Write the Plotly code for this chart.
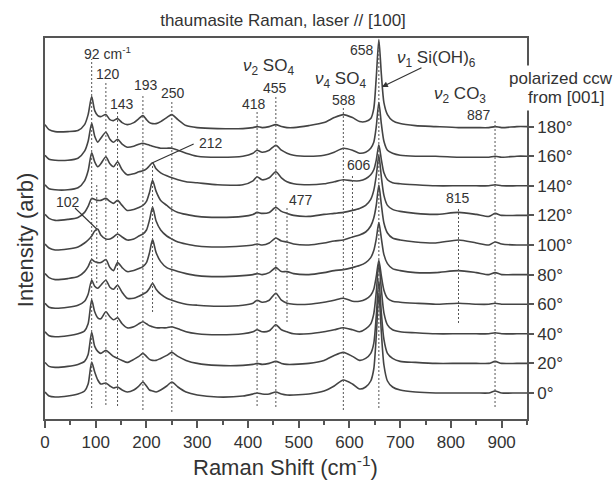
import plotly.graph_objects as go

# Raman shift sample positions (cm-1)
shift = [0, 8, 20, 45, 65, 78, 85, 92, 98, 104,
         110, 120, 128, 135, 143, 152, 162, 175, 185, 193,
         200, 206, 212, 219, 228, 240, 250, 262, 278, 300,
         340, 390, 410, 418, 428, 442, 455, 466, 477, 490,
         520, 550, 570, 588, 606, 620, 632, 642, 648, 653,
         658, 663, 668, 675, 685, 700, 730, 770, 815, 850,
         875, 887, 900, 930, 950]

angles = ["0°", "20°", "40°", "60°", "80°", "100°", "120°", "140°", "160°", "180°"]

# intensities above each spectrum's own baseline (arb)
i000 = [1, -3, -4, -3, -1, 2, 9, 31, 21, 13,
        9, 10, 7, 5, 6, 3, 1, 3, 7, 11,
        7, 3, 2, 1, 3, 7, 11, 6, 1, -2,
        -4, -3, -1, 0, -1, -1, 1, -1, -2, -2,
        -1, 2, 7, 13, 9, 4, 6, 12, 24, 58,
        100, 60, 28, 12, 6, 3, 1, 0, 0, 0,
        0, 2, 0, 0, 0]
i020 = [1, -3, -4, -3, -1, 2, 9, 31, 17, 12,
        10, 13, 10, 7, 5, 3, 1, 4, 7, 10,
        7, 4, 3, 3, 5, 8, 11, 7, 3, 0,
        -2, -2, -1, 0, -1, 0, 2, 0, -1, -1,
        0, 3, 8, 11, 7, 3, 5, 10, 20, 48,
        83, 50, 24, 10, 5, 2, 1, 0, 0, 0,
        0, 2, 0, 0, 0]
i040 = [2, -2, -3, -2, 0, 3, 10, 34, 22, 16,
        15, 22, 17, 14, 16, 10, 6, 7, 10, 12,
        10, 8, 7, 6, 6, 6, 7, 5, 2, 0,
        -1, 0, 2, 4, 2, 3, 9, 4, 2, 0,
        0, 2, 4, 6, 4, 2, 5, 10, 20, 42,
        71, 44, 21, 9, 4, 2, 1, 0, 0, 0,
        0, 1, 0, 0, 0]
i060 = [1, -3, -4, -3, -1, 3, 10, 24, 18, 16,
        19, 24, 17, 15, 19, 12, 6, 6, 8, 10,
        12, 16, 21, 15, 10, 6, 4, 2, 0, -1,
        -2, -1, 1, 4, 2, 4, 11, 4, 1, 0,
        0, 2, 4, 6, 3, 3, 5, 9, 15, 28,
        44, 28, 14, 6, 3, 2, 1, 0, 1, 0,
        0, 1, 0, 0, 0]
i080 = [1, -3, -5, -4, -2, 3, 8, 15, 13, 12,
        12, 15, 7, 4, 12, 7, 3, 4, 6, 8,
        12, 22, 35, 22, 13, 7, 5, 3, 1, -1,
        -2, -1, 0, 1, 0, 2, 7, 3, 3, 1,
        0, 2, 4, 5, 7, 9, 12, 17, 24, 36,
        52, 36, 20, 11, 6, 4, 2, 2, 4, 2,
        0, 2, 0, 0, 0]
i100 = [1, -3, -5, -4, -2, 2, 5, 9, 14, 16,
        10, 6, 6, 8, 11, 8, 5, 6, 9, 11,
        15, 25, 38, 24, 15, 9, 6, 3, 1, -1,
        -2, -1, 0, 1, 0, 2, 7, 4, 3, 1,
        0, 2, 4, 5, 8, 10, 13, 19, 27, 40,
        60, 40, 22, 12, 7, 5, 3, 2, 5, 2,
        0, 3, 1, 0, 0]
i120 = [1, -3, -5, -4, -2, 3, 9, 17, 16, 15,
        15, 17, 14, 12, 15, 10, 5, 6, 8, 10,
        14, 23, 35, 24, 15, 10, 6, 3, 1, -1,
        -2, -1, 1, 3, 2, 3, 8, 4, 2, 0,
        -1, 1, 2, 3, 5, 7, 10, 16, 25, 40,
        60, 38, 20, 10, 6, 4, 2, 1, 3, 1,
        -1, 2, 0, 0, 0]
i140 = [1, -3, -4, -4, -2, 5, 15, 33, 24, 19,
        22, 29, 22, 19, 24, 16, 11, 12, 14, 15,
        17, 20, 23, 17, 13, 10, 8, 6, 4, 3,
        1, 1, 5, 9, 6, 8, 14, 8, 4, 2,
        1, 2, 4, 6, 5, 5, 7, 11, 16, 26,
        41, 26, 13, 6, 3, 2, 1, 0, 0, 0,
        0, 1, 0, 0, 0]
i160 = [1, -3, -4, -4, -2, 5, 15, 33, 20, 14,
        18, 24, 17, 14, 17, 12, 9, 10, 12, 13,
        12, 11, 10, 9, 8, 8, 8, 6, 3, 0,
        -1, 0, 3, 6, 4, 6, 11, 6, 3, 1,
        0, 1, 4, 8, 6, 3, 4, 8, 14, 30,
        54, 32, 15, 6, 3, 1, 0, 0, -1, -1,
        -1, 0, -1, 0, 0]
i180 = [2, -3, -5, -5, -4, 2, 12, 30, 16, 11,
        10, 12, 7, 6, 8, 4, 2, 4, 8, 11,
        7, 4, 3, 3, 5, 9, 12, 7, 1, -1,
        -2, -2, -1, 0, -1, 0, 2, 0, -1, -1,
        1, 4, 9, 12, 9, 5, 5, 8, 18, 50,
        87, 52, 24, 12, 6, 3, 1, 0, -1, -1,
        -1, 0, -1, 0, 0]

spectra = [i000, i020, i040, i060, i080, i100, i120, i140, i160, i180]

# marked band positions (cm-1) and dotted-guide extents (arb units)
bands = [92, 102, 120, 143, 193, 212, 250, 418, 455, 477, 588, 606, 658, 815, 887]
guide_lo = [11, 136, 14, 13, 9, 107, 7, 13, 12, 97, 9, 129, 11, 96, 12]
guide_hi = [360, 236, 337, 307, 325, 256, 318, 307, 323, 213, 312, 244, 379, 212, 300]

base0 = 26.0
step = 29.6
offsets = [base0 + step * k for k in range(len(spectra))]

FONT = "Arial, Liberation Sans, sans-serif"
INK = "#333333"
LINE = "#444444"

fig = go.Figure()

for k, vals in enumerate(spectra):
    fig.add_trace(go.Scatter(
        x=shift, y=[offsets[k] + v for v in vals], mode="lines",
        line=dict(color=LINE, width=1.6, shape="spline", smoothing=0.7),
        showlegend=False, hoverinfo="skip", name=angles[k]))

shapes = []
for b, lo, hi in zip(bands, guide_lo, guide_hi):
    shapes.append(dict(type="line", xref="x", yref="y", x0=b, x1=b, y0=lo, y1=hi,
                       line=dict(color="#555555", width=1, dash="2px,2px"), layer="above"))

# leader lines
i212 = shift.index(212)
i104 = shift.index(104)
shapes.append(dict(type="line", xref="x", yref="y", x0=293, y0=275,
                   x1=212, y1=offsets[7] + i140[i212], line=dict(color=INK, width=1.1)))
shapes.append(dict(type="line", xref="x", yref="y", x0=59, y0=211,
                   x1=102, y1=offsets[5] + i100[i104], line=dict(color=INK, width=1.1)))

ann = []
def lab(text, x, y, xanchor="center", xshift=0, size=14):
    ann.append(dict(text=text, x=x, y=y, xref="x", yref="y", xanchor=xanchor, yanchor="middle",
                    xshift=xshift, showarrow=False, font=dict(family=FONT, size=size, color=INK)))

lab("92 cm<sup>-1</sup>", 92, 366, "left", -10)
lab("120", 120, 345, "center", 2)
lab("143", 143, 315, "center", 4)
lab("193", 193, 334, "center", 3)
lab("250", 250, 326, "center", 1)
lab("418", 418, 315, "center", -3)
lab("455", 455, 331, "center", -1)
lab("588", 588, 319, "center", 1)
lab("658", 658, 369, "right", -3)
lab("887", 887, 304, "right", -2)
lab("212", 212, 276, "left", 44)
lab("102", 102, 217, "center", -29)
lab("477", 477, 219, "left", 0)
lab("606", 606, 254, "center", 7)
lab("815", 815, 221, "center", -1)
lab("<i>ν</i><sub>2</sub> SO<sub>4</sub>", 440, 352, size=17)
lab("<i>ν</i><sub>4</sub> SO<sub>4</sub>", 583, 339, size=17)
lab("<i>ν</i><sub>1</sub> Si(OH)<sub>6</sub>", 771, 360, size=17)
lab("<i>ν</i><sub>2</sub> CO<sub>3</sub>", 818, 324, size=17)

ann.append(dict(text="polarized ccw", x=1.0705, y=0.895, xref="paper", yref="paper",
                xanchor="center", yanchor="middle", showarrow=False,
                bgcolor="white", borderpad=3, font=dict(family=FONT, size=17, color=INK)))
ann.append(dict(text="from [001]", x=1.081, y=0.845, xref="paper", yref="paper",
                xanchor="center", yanchor="middle", showarrow=False,
                bgcolor="white", borderpad=3, font=dict(family=FONT, size=17, color=INK)))

# arrow to the 658 band
ann.append(dict(text="", x=664, y=332, xref="x", yref="y", ax=745, ay=352, axref="x", ayref="y",
                showarrow=True, arrowhead=2, arrowsize=1, arrowwidth=1.2, arrowcolor=INK))

ann.append(dict(text="Raman Shift (cm<sup>-1</sup>)", x=0.498, y=-0.124, xref="paper", yref="paper",
                xanchor="center", yanchor="middle",
                showarrow=False, font=dict(family=FONT, size=22, color=INK)))
ann.append(dict(text="Intensity (arb)", x=-0.0415, y=0.472, xref="paper", yref="paper",
                xanchor="center", yanchor="middle",
                textangle=-90, showarrow=False, font=dict(family=FONT, size=22, color=INK)))

fig.update_layout(
    width=613, height=484,
    margin=dict(l=45, r=86, t=38, b=65),
    paper_bgcolor="white", plot_bgcolor="white",
    title=dict(text="thaumasite Raman, laser // [100]", x=283 / 613, xanchor="center",
               y=1 - 20 / 484, yanchor="middle", xref="container", yref="container",
               font=dict(family=FONT, size=17, color=INK)),
    shapes=shapes, annotations=ann,
    xaxis=dict(range=[0, 950], tickmode="array", tickvals=list(range(0, 901, 100)),
               ticks="outside", ticklen=7, tickwidth=1.5, tickcolor="#555",
               showline=True, linecolor="#555", linewidth=1.8, mirror=True,
               showgrid=False, zeroline=False,
               minor=dict(tickvals=list(range(50, 951, 100)), ticks="outside", ticklen=4,
                          tickwidth=1.5, tickcolor="#555"),
               tickfont=dict(family=FONT, size=17, color=INK)),
    yaxis=dict(range=[0, 381], side="right", tickmode="array", tickvals=offsets, ticktext=angles,
               ticks="outside", ticklen=5, tickwidth=1.5, tickcolor="#555",
               showline=True, linecolor="#555", linewidth=1.8, mirror=True,
               showgrid=False, zeroline=False,
               tickfont=dict(family=FONT, size=17, color=INK)),
)

fig.write_html("out.html")
